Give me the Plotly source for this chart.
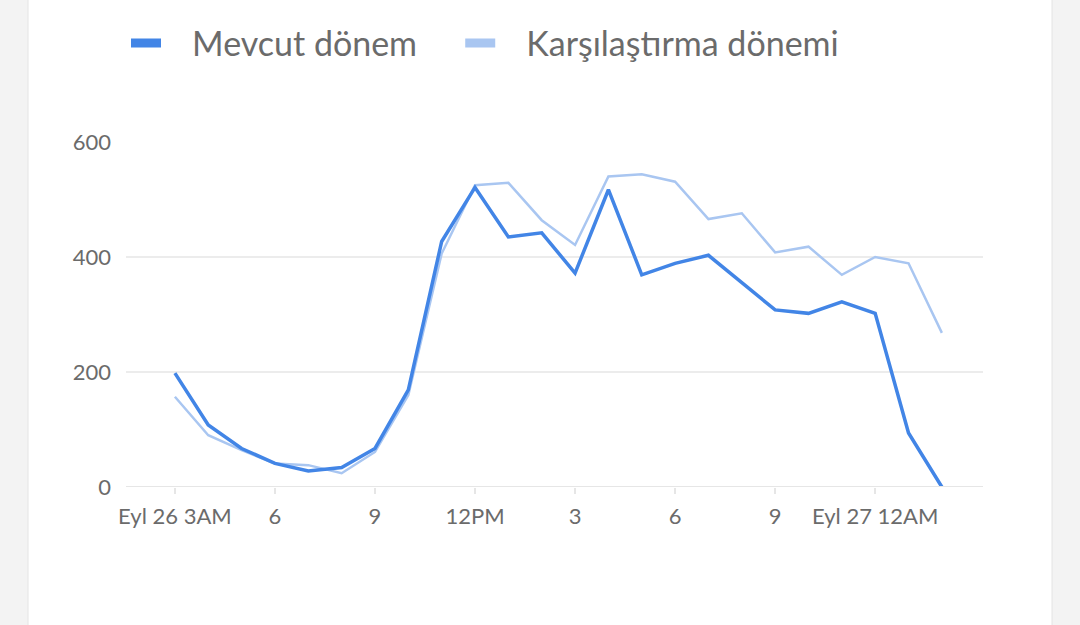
import pandas as pd
import plotly.graph_objects as go

# saatlik veriler: Eyl 26 03:00 -> Eyl 27 02:00
hours = pd.date_range("2024-09-26 03:00", "2024-09-27 02:00", freq="h")

mevcut = [198, 108, 67, 41, 28, 34, 67, 169, 427, 521, 435, 442,
          372, 517, 369, 389, 403, 355, 308, 302, 322, 302, 94, 0]
karsilastirma = [157, 90, 64, 41, 38, 24, 61, 160, 406, 525, 529, 464,
                 421, 540, 544, 531, 466, 476, 408, 418, 369, 400, 389, 268]

tick_vals = pd.date_range("2024-09-26 03:00", "2024-09-27 00:00", freq="3h")
tick_text = ["Eyl 26 3AM", "6", "9", "12PM", "3", "6", "9", "Eyl 27 12AM"]
y_ticks = [0, 200, 400, 600]

FONT = "Lato, 'Noto Sans', sans-serif"
TEXT = "#6b6b6b"
DARK = "#4285e6"
LIGHT = "#a9c6f1"
NB = "\u00a0" * 3  # lejant yazısı ile çizgi arası boşluk

fig = go.Figure()
fig.add_trace(go.Scatter(
    x=hours, y=karsilastirma, mode="lines", showlegend=False,
    line=dict(color=LIGHT, width=2.5),
))
fig.add_trace(go.Scatter(
    x=hours, y=mevcut, mode="lines", showlegend=False,
    line=dict(color=DARK, width=3.5),
))
# lejant için kalın çizgili boş izler (iki ayrı lejant)
fig.add_trace(go.Scatter(x=[None], y=[None], mode="lines", name=NB + "Mevcut dönem",
                         line=dict(color=DARK, width=9), legend="legend"))
fig.add_trace(go.Scatter(x=[None], y=[None], mode="lines", name=NB + "Karşılaştırma dönemi",
                         line=dict(color=LIGHT, width=9), legend="legend2"))

leg = dict(
    orientation="h",
    y=1.37, yanchor="top", xanchor="left",
    font=dict(size=34, color=TEXT),
    itemwidth=30,
    bgcolor="rgba(0,0,0,0)",
)

fig.update_layout(
    width=1080,
    height=625,
    margin=dict(l=126, r=97, t=142, b=138),
    paper_bgcolor="#f3f3f3",
    plot_bgcolor="white",
    font=dict(family=FONT, color=TEXT, size=22),
    legend=dict(leg, x=0.0),
    legend2=dict(leg, x=0.39),
    xaxis=dict(
        range=["2024-09-26 01:32", "2024-09-27 03:14"],
        tickvals=tick_vals,
        ticktext=tick_text,
        showgrid=False,
        showline=False,
        zeroline=False,
        ticks="outside",
        ticklen=6,
        tickcolor="#e6e6e6",
        tickwidth=1.5,
        ticklabelstandoff=4,
        tickfont=dict(size=22, color=TEXT),
    ),
    yaxis=dict(
        range=[0, 600],
        tickvals=y_ticks,
        showgrid=True,
        gridcolor="#ececec",
        gridwidth=1.5,
        zeroline=False,
        ticks="",
        ticklabelstandoff=14,
        tickfont=dict(size=22, color=TEXT),
    ),
    shapes=[
        # beyaz kart
        dict(type="rect", xref="paper", yref="paper", layer="below",
             x0=-98 / 857, x1=1 + 69 / 857, y0=-2, y1=2,
             fillcolor="white", line=dict(color="#e4e4e4", width=1)),
        # x ekseni çizgisi
        dict(type="line", xref="paper", yref="y", x0=0, x1=1, y0=0, y1=0,
             line=dict(color="#e6e6e6", width=2)),
    ],
)

fig.write_html(
    "out.html",
    config={"displayModeBar": False},
    post_script="document.body.style.margin='0';",
)
